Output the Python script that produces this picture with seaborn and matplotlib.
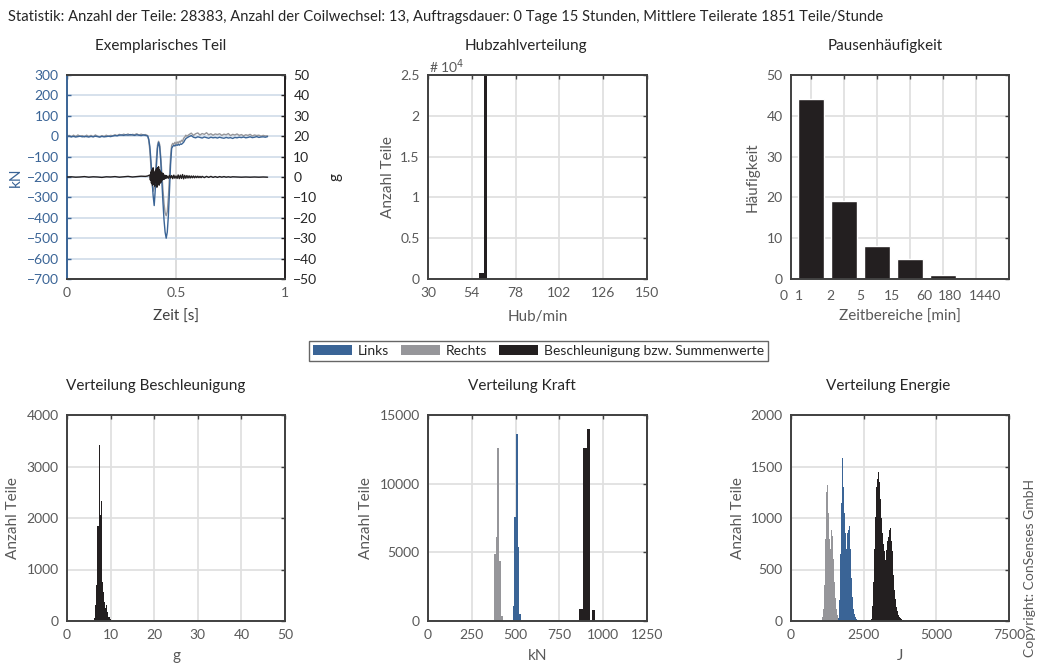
import matplotlib
matplotlib.use("Agg")
import matplotlib.pyplot as plt
from matplotlib.patches import Patch
from matplotlib.transforms import blended_transform_factory
import seaborn as sns

# ---------------- data ----------------
stat_title = ("Statistik: Anzahl der Teile: 28383, Anzahl der Coilwechsel: 13, "
              "Auftragsdauer: 0 Tage 15 Stunden, Mittlere Teilerate 1851 Teile/Stunde")
series_names = ["Links", "Rechts", "Beschleunigung bzw. Summenwerte"]

# exemplary part: force (kN) left / right, acceleration (g)
t_kraft = [0.00, 0.01, 0.02, 0.03, 0.04, 0.05, 0.06, 0.07, 0.08, 0.09,
           0.10, 0.11, 0.12, 0.13, 0.14, 0.15, 0.16, 0.17, 0.18, 0.19,
           0.20, 0.21, 0.22, 0.23, 0.24, 0.25, 0.26, 0.27, 0.28, 0.29,
           0.30, 0.31, 0.32, 0.33, 0.34, 0.35, 0.36, 0.37,
           0.375, 0.38, 0.385, 0.39, 0.395, 0.40, 0.405, 0.41, 0.415, 0.42,
           0.425, 0.43, 0.435, 0.44, 0.445, 0.45, 0.455, 0.46, 0.465, 0.47,
           0.475, 0.48, 0.485, 0.49, 0.495, 0.50, 0.505, 0.51, 0.515, 0.52,
           0.525, 0.53, 0.535, 0.54, 0.545, 0.55,
           0.56, 0.57, 0.58, 0.59, 0.60, 0.61, 0.62, 0.63, 0.64, 0.65, 0.66, 0.67, 0.68, 0.69,
           0.70, 0.71, 0.72, 0.73, 0.74, 0.75, 0.76, 0.77, 0.78, 0.79,
           0.80, 0.81, 0.82, 0.83, 0.84, 0.85, 0.86, 0.87, 0.88, 0.89, 0.90, 0.91, 0.92]
kraft_links = [-2, 0, -3, -1, -4, -2, 0, -3, -1, -2,
               -4, -1, -3, 0, -2, -4, -1, -3, -2, 0,
               -2, 1, 3, 2, 5, 6, 4, 7, 5, 8,
               6, 4, 7, 5, 3, 6, 4, 1,
               -15, -50, -120, -210, -290, -340, -260, -150, -60, -30,
               -50, -120, -220, -320, -410, -470, -500, -470, -390, -270,
               -140, -60, -50, -45, -48, -42, -45, -40, -44, -38,
               -40, -35, -30, -20, -12, -8,
               -2, 3, -5, -8, -3, -6, -9, -4, -7, -10, -5, -8, -6, -9,
               -5, -8, -10, -6, -9, -7, -11, -6, -8, -5,
               -7, -4, -8, -6, -3, -7, -5, -2, -6, -4, -3, -5, -2]
kraft_rechts = [0, 4, -3, 5, -2, 6, -1, 3, -4, 5,
                -2, 4, -3, 6, 0, -4, 3, -2, 5, -1,
                4, 2, 7, 3, 9, 5, 10, 6, 11, 4,
                9, 7, 12, 5, 10, 6, 8, 3,
                -20, -70, -150, -230, -270, -250, -200, -110, -45, -25,
                -40, -100, -180, -260, -330, -375, -390, -370, -300, -200,
                -100, -45, -35, -40, -30, -38, -28, -35, -25, -30,
                -20, -25, -10, -5, 5, 0,
                8, 15, 4, 12, 16, 6, 13, 9, 17, 7, 12, 5, 11, 8,
                12, 4, 10, 7, 13, 3, 9, 6, 11, 4,
                8, 2, 7, 4, 9, 1, 6, 3, 5, 0, 4, 1, 2]
t_beschl = [0.00, 0.02, 0.04, 0.06, 0.08, 0.10, 0.12, 0.14, 0.16, 0.18, 0.20,
            0.22, 0.24, 0.26, 0.28, 0.30, 0.32, 0.34, 0.36, 0.37, 0.38,
            0.3825, 0.385, 0.3875, 0.39, 0.3925, 0.395, 0.3975, 0.40, 0.4025, 0.405,
            0.4075, 0.41, 0.4125, 0.415, 0.4175, 0.42, 0.4225, 0.425, 0.4275, 0.43,
            0.4325, 0.435, 0.4375, 0.44, 0.4425, 0.445, 0.4475, 0.45, 0.4525, 0.455,
            0.4575, 0.46,
            0.465, 0.47, 0.475, 0.48, 0.485, 0.49, 0.495, 0.50, 0.505, 0.51,
            0.515, 0.52, 0.525, 0.53, 0.535, 0.54, 0.545, 0.55, 0.555, 0.56,
            0.565, 0.57, 0.575, 0.58, 0.585, 0.59, 0.595, 0.60, 0.605, 0.61, 0.615, 0.62,
            0.63, 0.64, 0.65, 0.66, 0.67, 0.68, 0.69, 0.70, 0.71, 0.72, 0.73, 0.74, 0.75, 0.76,
            0.78, 0.80, 0.82, 0.84, 0.86, 0.88, 0.90, 0.92]
beschl = [0, 0.1, -0.1, 0, 0.2, -0.1, 0.1, 0, -0.2, 0.1, 0,
          0.2, -0.1, 0.1, 0.3, 0, 0.2, 0.4, 0.3, 0.5, 1.0,
          -1.5, 2.5, -3.0, 3.5, -4.0, 4.5, -3.5, 2.0, -4.5, 3.0,
          -2.5, 4.0, -5.0, 4.5, -3.5, 5.0, -4.0, 3.5, -3.0, 2.5,
          -2.5, 2.0, -1.5, 1.8, -1.2, 1.0, -1.0, 0.8, -0.6, 0.7,
          -0.5, 0.4,
          -0.6, 0.8, -0.5, 0.7, -0.8, 0.9, -0.6, 0.5, -0.7, 1.0,
          -0.8, 0.9, -0.7, 1.2, -0.9, 0.8, -0.6, 0.7, -0.5, 0.6,
          -0.5, 0.5, -0.4, 0.5, -0.4, 0.4, -0.3, 0.4, -0.3, 0.3, -0.3, 0.3,
          -0.3, 0.3, -0.2, 0.3, -0.2, 0.2, -0.2, 0.2, -0.1, 0.2, -0.1, 0.1, -0.1, 0.1,
          0, -0.1, 0, -0.1, 0, -0.1, 0, -0.1]

# stroke rate distribution
hub_edges = [58.0, 60.6, 62.1]
hub_counts = [700, 27683]
hub_ticks = [30, 54, 78, 102, 126, 150]

# pause frequency
pause_pos = [1, 2, 3, 4, 5, 6]
pause_counts = [44, 19, 8, 5, 1, 0]
pause_labels = ["0", "1", "2", "5", "15", "60", "180", "1440"]

# acceleration distribution (g)
acc_edges = [6.2, 6.42, 6.65, 6.88, 7.28, 7.5, 7.72, 7.95, 8.18, 8.41,
             8.72, 8.94, 9.17, 9.48, 9.86, 10.1]
acc_counts = [60, 310, 700, 1850, 3420, 2060, 2330, 760, 570, 375,
              245, 310, 180, 85, 30]

# force distribution (kN)
kraft_rechts_edges = [378, 387, 395, 404, 414, 427]
kraft_rechts_counts = [4850, 6100, 12600, 4350, 400]
kraft_links_edges = [484, 492, 501.5, 511, 518.7, 532]
kraft_links_counts = [1100, 7600, 13600, 5400, 500]
kraft_summe_edges = [860, 883, 906, 927, 936.4, 955.4]
kraft_summe_counts = [900, 12600, 14000, 0, 800]

# energy distribution (J)
energie_bin = 35
energie_rechts_start = 1050
energie_rechts_counts = [40, 120, 350, 800, 1250, 1320, 1050, 800, 700, 880,
                         830, 600, 380, 220, 120, 60, 30, 10]
energie_links_start = 1610
energie_links_counts = [30, 200, 650, 1150, 1580, 1300, 1050, 850, 700, 850,
                        880, 920, 700, 420, 230, 120, 70, 40, 20, 10]
energie_summe_start = 2740
energie_summe_counts = [20, 150, 380, 700, 1010, 1300, 1380, 1450, 1350, 1180,
                        1000, 850, 750, 680, 590, 690, 780, 820, 880, 900,
                        780, 680, 450, 300, 210, 140, 95, 60, 40, 25,
                        15, 8, 5]

# ---------------- style ----------------
C_BLUE = "#3a6496"
C_GRAY = "#96969a"
C_BLACK = "#231f20"
C_SPINE = "#404040"
C_TICK = "#595959"
C_TITLE = "#262626"
C_GRID = "#e0e0e0"
FS_TICK = 10
FS_LAB = 11
FS_TITLE = 11
FS_STAT = 10.6

sns.set_theme(style="white")
plt.rcParams["font.family"] = ["Lato", "DejaVu Sans"]

W, H = 1037, 666
fig = plt.figure(figsize=(W / 100, H / 100), dpi=100)


def px_axes(l, t, r, b):
    return fig.add_axes([l / W, 1 - b / H, (r - l) / W, (b - t) / H])


def ftext(px, py, s, **kw):
    fig.text(px / W, 1 - py / H, s, **kw)


def style(ax, grid=True):
    for s in ax.spines.values():
        s.set_color(C_SPINE)
        s.set_linewidth(1.4)
    ax.tick_params(direction="in", length=3, width=1, colors=C_SPINE,
                   labelcolor=C_TICK, labelsize=FS_TICK, top=True, right=True, pad=6)
    if grid:
        ax.grid(True, color=C_GRID, lw=1.3)
    ax.set_axisbelow(True)


def hist(ax, edges, counts, color):
    centers = [(a + b) / 2 for a, b in zip(edges[:-1], edges[1:])]
    sns.histplot(x=centers, weights=counts, bins=edges, color=color, alpha=1,
                 linewidth=0, ax=ax)


def place_labels(ax, xy, yx):
    ax.xaxis.label.set_va("center")
    ax.yaxis.label.set_va("center")
    ax.xaxis.set_label_coords(0.5, xy)
    ax.yaxis.set_label_coords(yx, 0.5)


def labels(ax, xl, yl, xy, yx):
    ax.set_xlabel(xl, fontsize=FS_LAB, color=C_TICK)
    ax.set_ylabel(yl, fontsize=FS_LAB, color=C_TICK)
    place_labels(ax, xy, yx)


TOP = (75, 279)
BOT = (415, 621)
COLS = [(67, 285), (428, 647), (791, 1009)]
XL_TOP = (279 - 317) / 204
XL_BOT = (621 - 656) / 206

# ---- Exemplarisches Teil ----
ax = px_axes(COLS[0][0], TOP[0], COLS[0][1], TOP[1])
style(ax, grid=False)
ax.set_xlim(0, 1)
ax.set_ylim(-700, 300)
ax.set_xticks([0, 0.5, 1])
ax.set_xticklabels(["0", "0.5", "1"])
ax.set_yticks(range(-700, 301, 100))
ax.xaxis.grid(True, color="#dadada", lw=1.3)
ax.yaxis.grid(True, color="#d3deea", lw=1.3)
sns.lineplot(x=t_kraft, y=kraft_rechts, color=C_GRAY, lw=1.0, ax=ax, sort=False, estimator=None)
sns.lineplot(x=t_kraft, y=kraft_links, color=C_BLUE, lw=1.0, ax=ax, sort=False, estimator=None)
ax.tick_params(axis="y", colors=C_BLUE, labelcolor=C_BLUE, right=False)
ax.spines["left"].set_color(C_BLUE)
ax.spines["right"].set_visible(False)
ax.set_xlabel("Zeit [s]", fontsize=FS_LAB, color="#404040")
ax.set_ylabel("kN", fontsize=FS_LAB, color=C_BLUE)
place_labels(ax, XL_TOP, (16 - 67) / 218)
ax2 = ax.twinx()
style(ax2, grid=False)
ax2.set_ylim(-50, 50)
ax2.set_yticks(range(-50, 51, 10))
sns.lineplot(x=t_beschl, y=beschl, color=C_BLACK, lw=1.0, ax=ax2, sort=False, estimator=None)
ax2.tick_params(axis="y", colors=C_BLACK, labelcolor="#262626", left=False, right=True)
ax2.tick_params(axis="x", top=False, bottom=False)
ax2.spines["right"].set_color(C_BLACK)
ax2.spines["left"].set_visible(False)
ax2.set_ylabel("g", fontsize=FS_LAB, color="#262626", rotation=90)
ax2.yaxis.label.set_va("center")
ax2.yaxis.set_label_coords((335 - 67) / 218, 0.5)

# ---- Hubzahlverteilung ----
ax = px_axes(COLS[1][0], TOP[0], COLS[1][1], TOP[1])
style(ax)
hist(ax, hub_edges, hub_counts, C_BLACK)
ax.set_xlim(30, 150)
ax.set_ylim(0, 25000)
ax.set_xticks(hub_ticks)
ax.set_yticks([0, 5000, 10000, 15000, 20000, 25000])
ax.set_yticklabels(["0", "0.5", "1", "1.5", "2", "2.5"])
labels(ax, "Hub/min", "Anzahl Teile", XL_TOP, (388 - 428) / 219)
ftext(429, 67, "# 10$^4$", fontsize=FS_TICK, color=C_TICK, ha="left", va="center")

# ---- Pausenhäufigkeit ----
ax = px_axes(COLS[2][0], TOP[0], COLS[2][1], TOP[1])
style(ax)
sns.barplot(x=pause_pos, y=pause_counts, native_scale=True, color=C_BLACK,
            saturation=1, width=0.8, errorbar=None, ax=ax)
ax.set_xlim(0.4, 7.0)
ax.set_ylim(0, 50)
ax.set_yticks(range(0, 51, 10))
ax.set_xticks(pause_pos)
ax.set_xticklabels([])
trans = blended_transform_factory(ax.transData, ax.transAxes)
pause_label_x = [0.19, 0.64, 1.58, 2.49, 3.46, 4.43, 5.21, 6.27]
for xp, lab in zip(pause_label_x, pause_labels):
    ax.text(xp, -0.083, lab, transform=trans, ha="center", va="center",
            fontsize=FS_TICK, color=C_TICK, clip_on=False)
labels(ax, "Zeitbereiche [min]", "Häufigkeit", XL_TOP, (753 - 791) / 218)

# ---- Verteilung Beschleunigung ----
ax = px_axes(COLS[0][0], BOT[0], COLS[0][1], BOT[1])
style(ax)
hist(ax, acc_edges, acc_counts, C_BLACK)
ax.set_xlim(0, 50)
ax.set_ylim(0, 4000)
ax.set_xticks(range(0, 51, 10))
ax.set_yticks(range(0, 4001, 1000))
labels(ax, "g", "Anzahl Teile", XL_BOT, (13 - 67) / 218)

# ---- Verteilung Kraft ----
ax = px_axes(COLS[1][0], BOT[0], COLS[1][1], BOT[1])
style(ax)
hist(ax, kraft_rechts_edges, kraft_rechts_counts, C_GRAY)
hist(ax, kraft_links_edges, kraft_links_counts, C_BLUE)
hist(ax, kraft_summe_edges, kraft_summe_counts, C_BLACK)
ax.set_xlim(0, 1250)
ax.set_ylim(0, 15000)
ax.set_xticks(range(0, 1251, 250))
ax.set_yticks(range(0, 15001, 5000))
labels(ax, "kN", "Anzahl Teile", XL_BOT, (366 - 428) / 219)

# ---- Verteilung Energie ----
ax = px_axes(COLS[2][0], BOT[0], COLS[2][1], BOT[1])
style(ax)
for start, counts, col in [(energie_rechts_start, energie_rechts_counts, C_GRAY),
                           (energie_links_start, energie_links_counts, C_BLUE),
                           (energie_summe_start, energie_summe_counts, C_BLACK)]:
    edges = [start + i * energie_bin for i in range(len(counts) + 1)]
    hist(ax, edges, counts, col)
ax.set_xlim(0, 7500)
ax.set_ylim(0, 2000)
ax.set_xticks(range(0, 7501, 2500))
ax.set_yticks(range(0, 2001, 500))
labels(ax, "J", "Anzahl Teile", XL_BOT, (738 - 791) / 218)

# ---- titles ----
ftext(8, 17, stat_title, fontsize=FS_STAT, color=C_TITLE, ha="left", va="center")
for txt, xc in [("Exemplarisches Teil", 161), ("Hubzahlverteilung", 526), ("Pausenhäufigkeit", 885)]:
    ftext(xc, 46, txt, fontsize=FS_TITLE, color=C_TITLE, ha="center", va="center")
for txt, xc in [("Verteilung Beschleunigung", 156), ("Verteilung Kraft", 522), ("Verteilung Energie", 888)]:
    ftext(xc, 386, txt, fontsize=FS_TITLE, color=C_TITLE, ha="center", va="center")
ftext(1030, 568, "Copyright: ConSenses GmbH", fontsize=FS_TICK, color=C_TICK,
      rotation=90, ha="center", va="center")

# ---- legend ----
handles = [Patch(facecolor=c, edgecolor="none") for c in (C_BLUE, C_GRAY, C_BLACK)]
leg = fig.legend(handles, series_names, loc="center", ncol=3,
                 bbox_to_anchor=(538.5 / W, 1 - 351 / H), fontsize=10,
                 frameon=True, fancybox=False, handlelength=2.8, handleheight=0.7,
                 handletextpad=0.4, columnspacing=0.9, borderpad=0.3)
leg.get_frame().set_edgecolor(C_SPINE)
leg.get_frame().set_linewidth(1.0)
for t in leg.get_texts():
    t.set_color(C_TITLE)

fig.savefig("out.png", dpi=100)
